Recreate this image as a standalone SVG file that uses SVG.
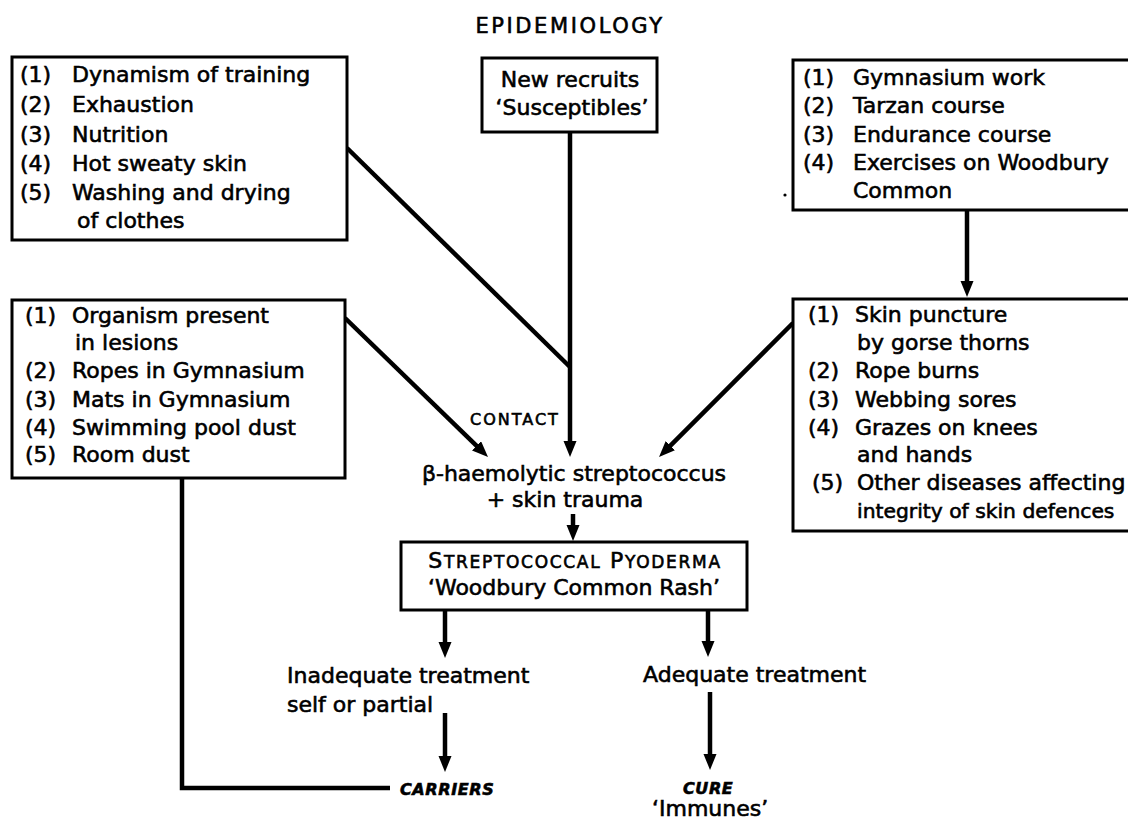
<svg xmlns="http://www.w3.org/2000/svg" width="1128" height="821" viewBox="0 0 1128 821">
<defs>
<style>
text{font-family:"DejaVu Sans","Liberation Sans",sans-serif;font-size:22px;fill:#000;stroke:#000;stroke-width:0.6}
.box{fill:#fff;stroke:#000;stroke-width:3}
.c{fill:none;stroke:#000;stroke-width:4.5}
.sc{font-size:16px;letter-spacing:2px}
.bi{font-size:16px;font-weight:bold;font-style:italic;letter-spacing:0.6px}
.mid{text-anchor:middle}
</style>
<marker id="ah" markerUnits="userSpaceOnUse" markerWidth="17" markerHeight="14" refX="3" refY="6.5" orient="auto">
<path d="M0,0 L16,6.5 L0,13 z" fill="#000"/>
</marker>
</defs>
<rect width="1128" height="821" fill="#fff"/>
<text x="570" y="33" class="mid" style="font-size:21px;letter-spacing:2.6px">EPIDEMIOLOGY</text>

<g id="connectors">
<line class="c" x1="570" y1="132" x2="570" y2="444" marker-end="url(#ah)"/>
<line class="c" x1="347" y1="148" x2="570" y2="367"/>
<line class="c" x1="345" y1="318" x2="478.7" y2="447.9" marker-end="url(#ah)"/>
<line class="c" x1="793" y1="323" x2="668.2" y2="447.8" marker-end="url(#ah)"/>
<line class="c" x1="967" y1="210" x2="967" y2="284" marker-end="url(#ah)"/>
<line class="c" x1="573" y1="514" x2="573" y2="528" marker-end="url(#ah)"/>
<line class="c" x1="445" y1="610" x2="445" y2="645" marker-end="url(#ah)"/>
<line class="c" x1="708" y1="610" x2="708" y2="644" marker-end="url(#ah)"/>
<line class="c" x1="445" y1="713" x2="445" y2="759" marker-end="url(#ah)"/>
<line class="c" x1="710" y1="692" x2="710" y2="757" marker-end="url(#ah)"/>
<polyline class="c" points="182,478 182,788 390,788"/>
</g>

<g id="factors">
<rect class="box" x="12" y="57" width="335" height="183"/>
<text x="20" y="82">(1)</text><text x="72" y="82">Dynamism of training</text>
<text x="20" y="112">(2)</text><text x="72" y="112">Exhaustion</text>
<text x="20" y="142">(3)</text><text x="72" y="142">Nutrition</text>
<text x="20" y="171">(4)</text><text x="72" y="171">Hot sweaty skin</text>
<text x="20" y="200">(5)</text><text x="72" y="200">Washing and drying</text>
<text x="77" y="228">of clothes</text>
</g>

<g id="recruits">
<rect class="box" x="482" y="58" width="175" height="74"/>
<text x="570" y="87" class="mid">New recruits</text>
<text x="572" y="115" class="mid">‘Susceptibles’</text>
</g>

<g id="activities">
<rect class="box" x="793" y="60" width="350" height="150"/>
<text x="803" y="85">(1)</text><text x="853" y="85">Gymnasium work</text>
<text x="803" y="113">(2)</text><text x="853" y="113">Tarzan course</text>
<text x="803" y="142">(3)</text><text x="853" y="142">Endurance course</text>
<text x="803" y="170">(4)</text><text x="853" y="170">Exercises on Woodbury</text>
<text x="853" y="198">Common</text>
<circle cx="785" cy="195" r="1.6" fill="#000"/>
</g>

<g id="sources">
<rect class="box" x="12" y="300" width="333" height="178"/>
<text x="25" y="323">(1)</text><text x="72" y="323">Organism present</text>
<text x="75" y="350">in lesions</text>
<text x="25" y="378">(2)</text><text x="72" y="378">Ropes in Gymnasium</text>
<text x="25" y="407">(3)</text><text x="72" y="407">Mats in Gymnasium</text>
<text x="25" y="435">(4)</text><text x="72" y="435">Swimming pool dust</text>
<text x="25" y="462">(5)</text><text x="72" y="462">Room dust</text>
</g>

<g id="trauma">
<rect class="box" x="793" y="299" width="350" height="232"/>
<text x="808" y="322">(1)</text><text x="855" y="322">Skin puncture</text>
<text x="857" y="350">by gorse thorns</text>
<text x="808" y="378">(2)</text><text x="855" y="378">Rope burns</text>
<text x="808" y="407">(3)</text><text x="855" y="407">Webbing sores</text>
<text x="808" y="435">(4)</text><text x="855" y="435">Grazes on knees</text>
<text x="857" y="462">and hands</text>
<text x="812" y="490">(5)</text><text x="857" y="490">Other diseases affecting</text>
<text x="857" y="518" style="font-size:20.3px">integrity of skin defences</text>
</g>

<g id="contact">
<text x="470" y="425" class="sc">CONTACT</text>
</g>

<g id="infection">
<text x="574" y="481" class="mid">β-haemolytic streptococcus</text>
<text x="565" y="507" class="mid">+ skin trauma</text>
</g>

<g id="pyoderma">
<rect class="box" x="401" y="542" width="346" height="68"/>
<text x="575" y="568" class="mid" style="letter-spacing:1.7px">S<tspan style="font-size:17px">TREPTOCOCCAL</tspan> P<tspan style="font-size:17px">YODERMA</tspan></text>
<text x="574" y="595" class="mid">‘Woodbury Common Rash’</text>
</g>

<g id="inadequate">
<text x="287" y="683">Inadequate treatment</text>
<text x="287" y="712">self or partial</text>
</g>

<g id="adequate">
<text x="643" y="682">Adequate treatment</text>
</g>

<g id="carriers">
<text x="400" y="795" class="bi">CARRIERS</text>
</g>

<g id="cure">
<text x="683" y="794" class="bi">CURE</text>
<text x="652" y="816">‘Immunes’</text>
</g>
</svg>
